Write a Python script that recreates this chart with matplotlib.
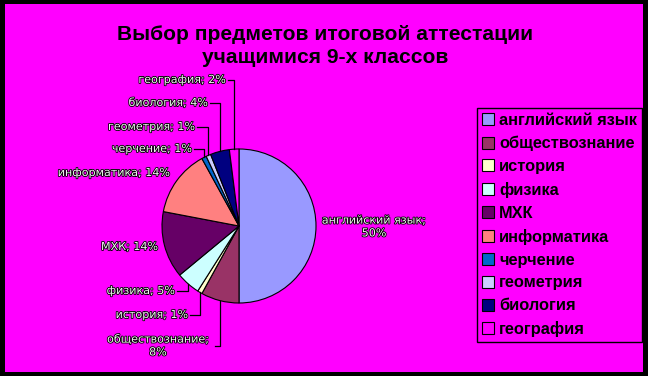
import matplotlib.pyplot as plt
import matplotlib.patheffects as pe
from matplotlib.patches import Rectangle
import numpy as np

# Выбор предметов итоговой аттестации, 9-е классы (%)
subjects = ['английский язык', 'обществознание', 'история', 'физика', 'МХК',
            'информатика', 'черчение', 'геометрия', 'биология', 'география']
percents = [50, 8, 1, 5, 14, 14, 1, 1, 4, 2]
colors = ['#9999FF', '#993366', '#FFFFCC', '#CCFFFF', '#660066',
          '#FF8080', '#0066CC', '#CCCCFF', '#000080', '#FF00FF']

W, H = 648, 376
MAGENTA = '#FF00FF'

fig = plt.figure(figsize=(W / 100, H / 100), dpi=100, facecolor='black')
ax = fig.add_axes([0, 0, 1, 1])
ax.add_patch(Rectangle((5, 4), 638, 368, facecolor=MAGENTA, edgecolor='none', zorder=0))

# pie in pixel units, y up
cx, cy, r = 239, H - 226, 77
wedges, _ = ax.pie(percents, colors=colors, startangle=90, counterclock=False,
                   center=(cx, cy), radius=r,
                   wedgeprops=dict(edgecolor='black', linewidth=0.8))
ax.set_xlim(0, W)
ax.set_ylim(0, H)
ax.set_aspect('auto')
ax.axis('off')

# data labels: x, y (from top), alignment, leader line
label_pos = [
    (374, 227, 'center', False),
    (158, 346, 'center', True),
    (188, 315, 'right', True),
    (175, 291, 'right', True),
    (158, 247, 'right', False),
    (170, 173, 'right', False),
    (192, 149, 'right', True),
    (195, 127, 'right', True),
    (208, 103, 'right', True),
    (226, 80, 'right', True),
]

outline = [pe.Stroke(linewidth=1.2, foreground='black'), pe.Normal()]
for i, (w, name, p) in enumerate(zip(wedges, subjects, percents)):
    tx, ty, ha, leader = label_pos[i]
    ty = H - ty
    if i <= 1:
        txt = f'{name};\n{p}%'
    else:
        txt = f'{name}; {p}%'
    ax.text(tx, ty, txt, ha=ha, va='center', multialignment='center',
            fontsize=8, color='#F4F4F4', family='DejaVu Sans',
            linespacing=1.35, path_effects=outline, zorder=5)
    if leader:
        ang = np.deg2rad((w.theta1 + w.theta2) / 2)
        wx = cx + r * np.cos(ang)
        wy = cy + r * np.sin(ang)
        x0 = tx + 2 if ha == 'right' else tx + 57
        ax.plot([x0, wx, wx], [ty, ty, wy], color='black', lw=0.9, zorder=4)

fig.text(325, H - 46, 'Выбор предметов итоговой аттестации\nучащимися 9-х классов',
         transform=None, ha='center', va='center', fontsize=15.1,
         fontweight='bold', family='Liberation Sans', linespacing=1.3)

leg = ax.legend(wedges, subjects, loc='upper left', mode='expand',
                bbox_to_anchor=(477 / W, 1 - 108 / H, 165 / W, 0),
                bbox_transform=fig.transFigure,
                borderaxespad=0, frameon=True, fancybox=False, framealpha=1,
                facecolor=MAGENTA, edgecolor='black',
                prop=dict(family='Liberation Sans', weight='bold', size=11.8),
                handlelength=0.75, handleheight=0.75, handletextpad=0.3,
                labelspacing=0.48, borderpad=0.3)
leg.get_frame().set_linewidth(1.0)
for h in leg.legend_handles:
    h.set_edgecolor('black')
    h.set_linewidth(0.8)

fig.savefig('out.png', dpi=100, facecolor='black')
